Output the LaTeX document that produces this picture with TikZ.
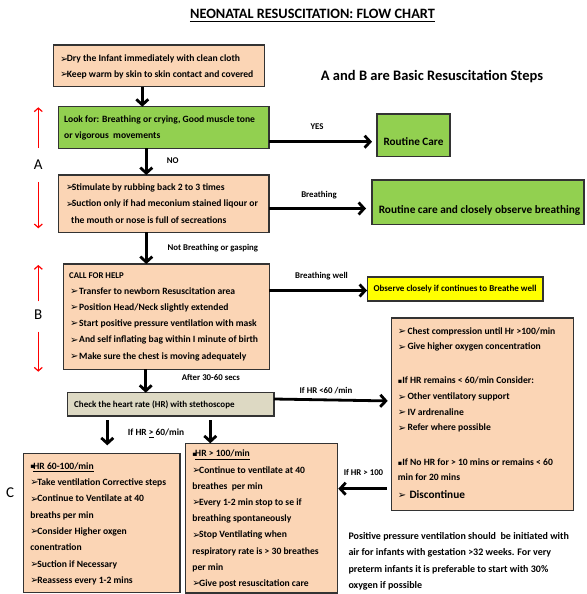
\documentclass[tikz,border=0pt]{standalone}
\usepackage{fontspec}
\setmainfont{Carlito}
\newfontfamily\symf{DejaVu Sans}
\usetikzlibrary{arrows.meta}

\definecolor{peach}{HTML}{FBD5B5}
\definecolor{leaf}{HTML}{92D050}
\definecolor{lemon}{HTML}{FFFF00}
\definecolor{khaki}{HTML}{DDD9C3}
\definecolor{edge}{HTML}{333333}

% arrowhead bullet and square bullet, set in a box of given width (pt)
\newcommand\arw[1]{\makebox[#1pt][l]{\symf\bfseries\fontsize{10}{8}\selectfont\raisebox{-0.2pt}{➢}}}
\newcommand\sqb[1]{\makebox[#1pt][l]{\symf\fontsize{6.5}{6}\selectfont\raisebox{0.6pt}{▪}}}

% a box as a node: name, x1, y1, x2, y2, style
\newcommand\flowbox[6]{\node[boxbase,#6,anchor=north west,minimum width={#4-#2},minimum height={#5-#3}] (#1) at (#2,#3) {};}
% lines of text: name, x, first y, step, extra style, list of lines
\newcommand\boxtext[6]{\foreach \rowtxt [count=\rowno from 0] in {#6}{\node[tl,#5] (#1-\rowno) at (#2,{#3+\rowno*#4}) {\rowtxt};}}

\begin{document}
\begin{tikzpicture}[x=1pt,y=-1pt,
  boxbase/.style={draw=edge,line width=1.3pt,inner sep=0pt,outer sep=0pt},
  tl/.style={anchor=mid west,inner sep=0pt,font=\fontsize{9.6}{11}\selectfont\bfseries},
  lbl/.style={anchor=mid,inner sep=0pt,font=\fontsize{8.8}{10}\selectfont\bfseries},
  flow/.style={line width=2.8pt,-{Straight Barb[length=5.5pt,width=12pt]}},
  redarr/.style={red,line width=1.2pt,-{Straight Barb[length=3.5pt,width=8pt]}},
  letter/.style={inner sep=0pt,font=\fontsize{15}{15}\selectfont}]
\useasboundingbox (0,0) rectangle (586,594);
\fill[white] (0,0) rectangle (586,594);

% headings
\node[inner sep=0pt,anchor=mid,font=\fontsize{14.3}{16}\selectfont\bfseries] (title) at (312.5,16) {NEONATAL RESUSCITATION: FLOW CHART};
\draw[line width=1.2pt] ([yshift=-3.4pt]title.base west) -- ([yshift=-3.4pt]title.base east);
\node[inner sep=0pt,anchor=mid,font=\fontsize{14.5}{16}\selectfont\bfseries] (steps) at (432,78.5) {A and B are Basic Resuscitation Steps};

% boxes
\flowbox{b1}{53.3}{45}{264.3}{86.7}{fill=peach}
\flowbox{b2}{58.3}{106.7}{269}{148.3}{fill=leaf}
\flowbox{rc}{377}{114}{450}{156.7}{fill=leaf}
\flowbox{b3}{58.3}{175}{269}{232.3}{fill=peach}
\flowbox{gb}{372}{180}{584}{224.3}{fill=leaf}
\flowbox{bB}{63.3}{264}{269.3}{369.3}{fill=peach}
\flowbox{yb}{367.5}{277}{543}{301}{fill=lemon}
\flowbox{chk}{67.7}{392.7}{274}{416}{fill=khaki}
\flowbox{rb}{391.7}{318}{573.3}{510.7}{fill=peach}
\flowbox{c1}{23.3}{453.3}{180}{592.5}{fill=peach}
\flowbox{c2}{185.7}{443.3}{337.3}{593}{fill=peach}

% box texts
\boxtext{t1}{60}{59.5}{15.3}{}{\arw{6.7}Dry the Infant immediately with clean cloth,\arw{6.7}Keep warm by skin to skin contact and covered}
\boxtext{t2}{64}{120.5}{16}{}{{Look for: Breathing or crying, Good muscle tone},or vigorous\ \ movements}
\boxtext{t3}{65.7}{188}{16.5}{}{\arw{6}Stimulate by rubbing back 2 to 3 times,\arw{6}Suction only if had meconium stained liqour or,\hspace*{5.3pt}the mouth or nose is full of secreations}
\node[tl,font=\fontsize{8.8}{10}\selectfont\bfseries] (tB-h) at (69,276) {CALL FOR HELP};
\boxtext{tB}{70}{292}{16.2}{}{\arw{9}Transfer to newborn Resuscitation area,\arw{9}Position Head/Neck slightly extended,\arw{9}Start positive pressure ventilation with mask,\arw{9}And self inflating bag within I minute of birth,\arw{9}Make sure the chest is moving adequately}
\node[anchor=mid,inner sep=0pt,font=\fontsize{11.2}{13}\selectfont\bfseries] (rc-t) at (413.5,143) {Routine Care};
\node[anchor=mid,inner sep=0pt,font=\fontsize{11.3}{13}\selectfont\bfseries] (gb-t) at (479.5,211) {Routine care and closely observe breathing};
\node[anchor=mid,inner sep=0pt,font=\fontsize{9}{11}\selectfont\bfseries] (yb-t) at (455,289.5) {Observe closely if continues to Breathe well};
\node[tl,font=\fontsize{9}{11}\selectfont\bfseries] (chk-t) at (74,405) {Check the heart rate (HR) with stethoscope};

\node[tl] (r1) at (397.7,332) {\arw{9.6}Chest compression until Hr >100/min};
\node[tl] (r2) at (397.7,347.5) {\arw{9.6}Give higher oxygen concentration};
\node[tl] (r3) at (397.7,381.5) {\sqb{4.5}If HR remains < 60/min Consider:};
\node[tl] (r4) at (397.7,397.5) {\arw{9.6}Other ventilatory support};
\node[tl] (r5) at (397.7,413) {\arw{9.6}IV ardrenaline};
\node[tl] (r6) at (397.7,428.5) {\arw{9.6}Refer where possible};
\node[tl] (r7) at (397.7,463.5) {\sqb{4.5}If No HR for > 10 mins or remains < 60};
\node[tl] (r8) at (397.7,478.5) {min for 20 mins};
\node[tl,font=\fontsize{11.3}{13}\selectfont\bfseries] (r9) at (397.7,496) {\arw{11.6}Discontinue};

\boxtext{tc1}{30.2}{467}{16.3}{}{\sqb{3}\underline{HR 60-100/min},\arw{7}Take ventilation Corrective steps,\arw{7}Continue to Ventilate at 40,breaths per min,\arw{7}Consider Higher oxgen,conentration,\arw{7}Suction if Necessary,\arw{7}Reassess every 1-2 mins}
\boxtext{tc2}{192.2}{454.5}{16.2}{}{\sqb{2.8}\underline{HR > 100/min},\arw{6.8}Continue to ventilate at 40,breathes\ \ per min,\arw{6.8}Every 1-2 min stop to se if,breathing spontaneously,\arw{6.8}Stop Ventilating when,respiratory rate is > 30 breathes,per min,\arw{6.8}Give post resuscitation care}
\boxtext{note}{348.3}{537}{16.4}{font=\fontsize{10}{12}\selectfont\bfseries}{Positive pressure ventilation should\ \ be initiated with,air for infants with gestation >32 weeks. For very,preterm infants it is preferable to start with 30\%,oxygen if possible}

% side letters
\node[letter] (lA) at (38.3,165) {A};
\node[letter] (lB) at (38.3,315) {B};
\node[letter] (lC) at (10,492.7) {C};
\coordinate (aTop) at (38.3,107.3);
\coordinate (aBot) at (38.3,228.3);
\coordinate (bTop) at (38.3,265);
\coordinate (bBot) at (38.3,371.7);
\draw[redarr] ([yshift=11.8pt]lA.north) -- (aTop);
\draw[redarr] ([yshift=-11.8pt]lA.south) -- (aBot);
\draw[redarr] ([yshift=8.5pt]lB.north) -- (bTop);
\draw[redarr] ([yshift=-11.7pt]lB.south) -- (bBot);

% connector lines
\coordinate (x1) at (142.3,0);
\coordinate (x2) at (146.3,0);
\coordinate (x3) at (145.7,0);
\coordinate (x4) at (107.3,0);
\coordinate (x5) at (210.3,0);
\coordinate (y1) at (0,141.7);
\coordinate (y2) at (0,208.5);
\coordinate (y3) at (0,290.5);
\coordinate (y4) at (0,399);
\coordinate (y4b) at (0,401);
\coordinate (y5) at (0,488.7);

\draw[flow] (b1.south -| x1) -- (b2.north -| x1);
\draw[flow,shorten >=5pt] (b2.east |- y1) -- (rc.west |- y1);
\draw[flow] (b2.south -| x2) -- (b3.north -| x2);
\draw[flow,shorten >=6pt] (b3.east |- y2) -- (gb.west |- y2);
\draw[flow] (b3.south -| x2) -- (bB.north -| x2);
\draw[flow,shorten >=0.5pt] (bB.east |- y3) -- (yb.west |- y3);
\draw[flow] (bB.south -| x3) -- (chk.north -| x3);
\draw[flow,shorten >=4pt] (chk.east |- y4) -- (rb.west |- y4b);
\draw[flow,shorten <=4pt,shorten >=8pt] (chk.south -| x4) -- (c1.north -| x4);
\draw[flow,shorten <=4pt] (chk.south -| x5) -- (c2.north -| x5);
\draw[flow,shorten <=5pt,shorten >=1pt] (rb.west |- y5) -- (c2.east |- y5);

% connector labels
\node[lbl] (l-yes) at (317,127) {YES};
\node[lbl,anchor=mid west] (l-no) at (166.7,161) {NO};
\node[lbl] (l-br) at (319,195) {Breathing};
\node[lbl,anchor=mid west] (l-nb) at (167.3,248.5) {Not Breathing or gasping};
\node[lbl] (l-bw) at (321.5,276) {Breathing well};
\node[lbl,anchor=mid west] (l-after) at (181.7,378) {After 30-60 secs};
\node[lbl] (l-lt60) at (326,391) {If HR <60 /min};
\node[lbl,anchor=mid west,font=\fontsize{9.4}{11}\selectfont\bfseries] (l-ge60) at (127.7,433.5) {If HR \underline{>} 60/min};
\node[lbl] (l-gt100) at (363.5,473) {If HR > 100};
\end{tikzpicture}
\end{document}
